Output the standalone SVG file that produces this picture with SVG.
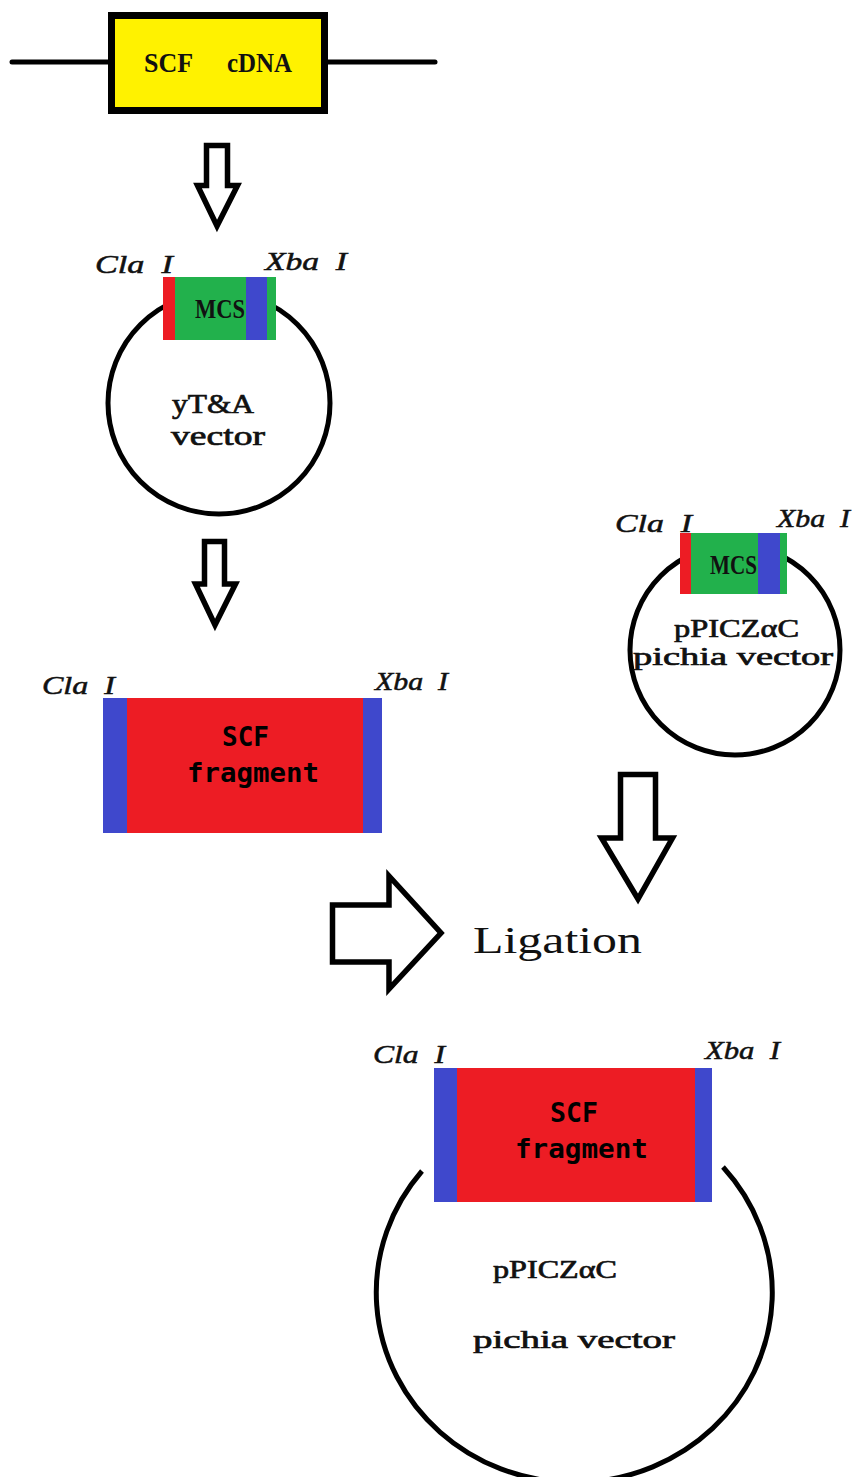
<svg xmlns="http://www.w3.org/2000/svg" width="859" height="1477" viewBox="0 0 859 1477">
  <style>
    .ring { fill: none; stroke: #000; stroke-width: 5; }
    .arrow { fill: #fff; stroke: #000; stroke-width: 5.5; stroke-linejoin: miter; }
    .site { font-family: "Liberation Serif", serif; font-style: italic; font-size: 25px; fill: #111; stroke: #111; stroke-width: 0.5; }
    .ser { font-family: "Liberation Serif", serif; fill: #111; }
    .bold { font-weight: bold; }
    .semi { stroke: #111; stroke-width: 0.7; }
    .mono { font-family: "DejaVu Sans Mono", "Liberation Mono", monospace; font-weight: bold; font-size: 26px; fill: #000; }
    .red { fill: #ED1C24; }
    .blue { fill: #3F48CC; }
    .green { fill: #22B14C; }
  </style>

  <!-- SCF cDNA insert on a linear strand -->
  <g id="scf-cdna">
    <line x1="12" y1="62" x2="435" y2="62" stroke="#000" stroke-width="5" stroke-linecap="round"/>
    <rect x="111.5" y="15.5" width="213" height="95" fill="#FFF200" stroke="#000" stroke-width="7"/>
    <text class="ser bold" font-size="28" y="72"><tspan x="144" textLength="49" lengthAdjust="spacingAndGlyphs">SCF</tspan><tspan x="227" textLength="65" lengthAdjust="spacingAndGlyphs">cDNA</tspan></text>
  </g>

  <!-- yT&A cloning vector -->
  <g id="plasmid-yta">
    <circle class="ring" cx="219" cy="403" r="111"/>
    <rect class="green" x="163" y="277" width="113" height="63"/>
    <rect class="red" x="163" y="277" width="12" height="63"/>
    <rect class="blue" x="246" y="277" width="21" height="63"/>
    <text class="ser bold" font-size="27" x="195" y="318" textLength="50" lengthAdjust="spacingAndGlyphs">MCS</text>
    <text class="site" x="95" y="273" textLength="78" lengthAdjust="spacingAndGlyphs" xml:space="preserve">Cla  I</text>
    <text class="site" x="265" y="270" textLength="82" lengthAdjust="spacingAndGlyphs" xml:space="preserve">Xba  I</text>
    <text class="ser semi" font-size="27" x="172" y="413" textLength="82" lengthAdjust="spacingAndGlyphs">yT&amp;A</text>
    <text class="ser semi" font-size="27" x="171" y="445" textLength="94" lengthAdjust="spacingAndGlyphs">vector</text>
  </g>

  <!-- excised SCF fragment -->
  <g id="scf-fragment">
    <rect class="red" x="103" y="698" width="279" height="135"/>
    <rect class="blue" x="103" y="698" width="24" height="135"/>
    <rect class="blue" x="363" y="698" width="19" height="135"/>
    <text class="mono" x="222" y="746" textLength="47" lengthAdjust="spacingAndGlyphs">SCF</text>
    <text class="mono" x="187" y="782" textLength="132" lengthAdjust="spacingAndGlyphs">fragment</text>
    <text class="site" x="42" y="694" textLength="73" lengthAdjust="spacingAndGlyphs" xml:space="preserve">Cla  I</text>
    <text class="site" x="375" y="690" textLength="73" lengthAdjust="spacingAndGlyphs" xml:space="preserve">Xba  I</text>
  </g>

  <!-- pPICZαC expression vector -->
  <g id="plasmid-ppicz">
    <circle class="ring" cx="735" cy="650" r="105"/>
    <rect class="green" x="680" y="533" width="107" height="61"/>
    <rect class="red" x="680" y="533" width="11" height="61"/>
    <rect class="blue" x="758" y="533" width="22" height="61"/>
    <text class="ser bold" font-size="27" x="710" y="574" textLength="47" lengthAdjust="spacingAndGlyphs">MCS</text>
    <text class="site" x="615" y="532" textLength="77" lengthAdjust="spacingAndGlyphs" xml:space="preserve">Cla  I</text>
    <text class="site" x="777" y="527" textLength="73" lengthAdjust="spacingAndGlyphs" xml:space="preserve">Xba  I</text>
    <text class="ser semi" font-size="26" x="674" y="637" textLength="125" lengthAdjust="spacingAndGlyphs">pPICZαC</text>
    <text class="ser semi" font-size="26" x="633" y="665" textLength="200" lengthAdjust="spacingAndGlyphs" xml:space="preserve">pichia vector</text>
  </g>

  <!-- ligation step label -->
  <g id="ligation">
    <text class="ser" font-size="38" x="473" y="953" textLength="169" lengthAdjust="spacingAndGlyphs">Ligation</text>
  </g>

  <!-- recombinant plasmid with inserted fragment -->
  <g id="recombinant">
    <path class="ring" d="M 422 1171 A 198 190 0 1 0 723 1167"/>
    <rect class="red" x="434" y="1068" width="278" height="134"/>
    <rect class="blue" x="434" y="1068" width="23" height="134"/>
    <rect class="blue" x="695" y="1068" width="17" height="134"/>
    <text class="mono" x="550" y="1122" textLength="48" lengthAdjust="spacingAndGlyphs">SCF</text>
    <text class="mono" x="515" y="1158" textLength="133" lengthAdjust="spacingAndGlyphs">fragment</text>
    <text class="site" x="373" y="1063" textLength="72" lengthAdjust="spacingAndGlyphs" xml:space="preserve">Cla  I</text>
    <text class="site" x="705" y="1059" textLength="75" lengthAdjust="spacingAndGlyphs" xml:space="preserve">Xba  I</text>
    <text class="ser semi" font-size="26" x="493" y="1278" textLength="124" lengthAdjust="spacingAndGlyphs">pPICZαC</text>
    <text class="ser semi" font-size="26" x="473" y="1348" textLength="202" lengthAdjust="spacingAndGlyphs" xml:space="preserve">pichia vector</text>
  </g>

  <!-- block arrows between steps -->
  <g id="connectors">
    <polygon class="arrow" points="206.5,145.5 227.5,145.5 227.5,185.5 237.5,185.5 217,226 197.5,185.5 206.5,185.5"/>
    <polygon class="arrow" points="204.5,541.5 224.5,541.5 224.5,584 235.5,584 215,625 195.5,584 204.5,584"/>
    <polygon class="arrow" points="620.5,774.5 655.5,774.5 655.5,838 672.5,838 638,899 601.5,838 620.5,838"/>
    <polygon class="arrow" points="332.5,905 389,905 389,876 441,933 389,989 389,962 332.5,962"/>
  </g>
</svg>
